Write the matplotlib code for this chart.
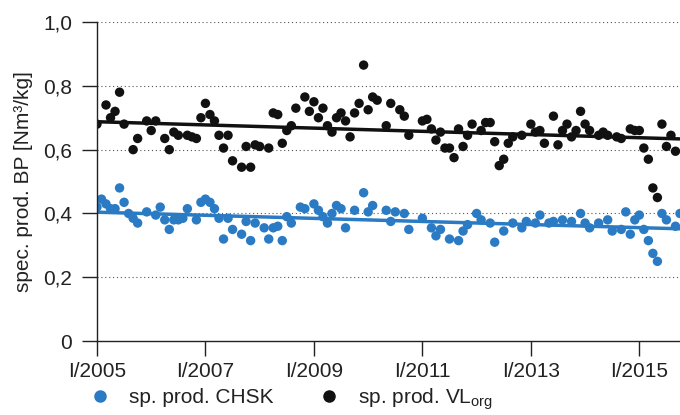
import numpy as np
import matplotlib
matplotlib.use("Agg")
import matplotlib.pyplot as plt
from matplotlib.lines import Line2D
from matplotlib.ticker import FuncFormatter

plt.rcParams['font.family'] = ['Liberation Sans', 'DejaVu Sans']
plt.rcParams['mathtext.fontset'] = 'custom'
plt.rcParams['mathtext.rm'] = 'Liberation Sans'
plt.rcParams['mathtext.it'] = 'Liberation Sans:italic'

# months counted from I/2005 (0 = January 2005)
vl_month = [0, 2, 3, 4, 5, 6, 8, 9, 11, 12, 13, 15, 16, 17, 18, 20, 21, 22, 23, 24,
            25, 26, 27, 28, 29, 30, 32, 33, 34, 35, 36, 38, 39, 40, 41, 42, 43, 44, 46, 47,
            48, 49, 50, 51, 52, 53, 54, 55, 56, 57, 58, 59, 60, 61, 62, 64, 65, 67, 68, 69,
            72, 73, 74, 75, 76, 77, 78, 79, 80, 81, 82, 83, 85, 86, 87, 88, 89, 90, 91, 92,
            94, 96, 97, 98, 99, 101, 102, 103, 104, 105, 106, 107, 108, 109, 111, 112, 113, 115, 116, 118,
            119, 120, 121, 122, 123, 124, 125, 126, 127, 128]
vl_org = [0.68, 0.74, 0.70, 0.72, 0.78, 0.68, 0.60, 0.635, 0.69, 0.66, 0.69, 0.635, 0.60, 0.655, 0.645, 0.645, 0.64, 0.635, 0.70, 0.745,
          0.71, 0.69, 0.645, 0.605, 0.645, 0.565, 0.545, 0.61, 0.545, 0.615, 0.61, 0.605, 0.715, 0.71, 0.62, 0.66, 0.675, 0.73, 0.765, 0.72,
          0.75, 0.70, 0.73, 0.675, 0.655, 0.70, 0.715, 0.69, 0.64, 0.715, 0.745, 0.865, 0.725, 0.765, 0.755, 0.675, 0.745, 0.725, 0.705, 0.645,
          0.69, 0.695, 0.665, 0.63, 0.655, 0.605, 0.605, 0.575, 0.665, 0.61, 0.645, 0.68, 0.66, 0.685, 0.685, 0.625, 0.55, 0.57, 0.62, 0.64,
          0.645, 0.68, 0.655, 0.66, 0.62, 0.705, 0.615, 0.66, 0.68, 0.64, 0.66, 0.72, 0.68, 0.66, 0.645, 0.655, 0.645, 0.64, 0.635, 0.665,
          0.66, 0.66, 0.605, 0.57, 0.48, 0.45, 0.68, 0.61, 0.645, 0.595]

chsk_month = [0, 1, 2, 3, 4, 5, 6, 7, 8, 9, 11, 13, 14, 15, 16, 17, 18, 19, 20, 22,
              23, 24, 25, 26, 27, 28, 29, 30, 32, 33, 34, 35, 37, 38, 39, 40, 41, 42, 43, 45,
              46, 48, 49, 50, 51, 52, 53, 54, 55, 57, 59, 60, 61, 64, 65, 66, 68, 69, 72, 74,
              75, 76, 78, 80, 81, 82, 84, 85, 87, 88, 90, 92, 94, 95, 97, 98, 100, 101, 103, 105,
              107, 108, 109, 111, 113, 114, 116, 117, 118, 119, 120, 121, 122, 123, 124, 125, 126, 128, 129]
chsk = [0.42, 0.445, 0.43, 0.415, 0.415, 0.48, 0.435, 0.40, 0.385, 0.37, 0.405, 0.395, 0.42, 0.38, 0.35, 0.38, 0.38, 0.385, 0.415, 0.38,
        0.435, 0.445, 0.435, 0.415, 0.385, 0.32, 0.385, 0.35, 0.335, 0.375, 0.315, 0.37, 0.355, 0.32, 0.355, 0.36, 0.315, 0.39, 0.37, 0.42,
        0.415, 0.43, 0.41, 0.39, 0.37, 0.40, 0.425, 0.415, 0.355, 0.41, 0.465, 0.405, 0.425, 0.41, 0.375, 0.405, 0.40, 0.35, 0.385, 0.355,
        0.33, 0.35, 0.32, 0.315, 0.345, 0.365, 0.40, 0.38, 0.37, 0.31, 0.345, 0.37, 0.355, 0.375, 0.37, 0.395, 0.37, 0.375, 0.38, 0.375,
        0.40, 0.37, 0.355, 0.37, 0.38, 0.345, 0.35, 0.405, 0.335, 0.38, 0.395, 0.35, 0.315, 0.275, 0.25, 0.40, 0.38, 0.36, 0.40]

year_ticks = [0, 24, 48, 72, 96, 120]
year_labels = ["I/2005", "I/2007", "I/2009", "I/2011", "I/2013", "I/2015"]
y_ticks = [0, 0.2, 0.4, 0.6, 0.8, 1.0]

blue = "#2a7bc3"
black = "#111111"

fig = plt.figure(figsize=(6.8, 4.15), dpi=100)
ax = fig.add_axes([0.1426, 0.178, 0.8574, 0.769])

ax.scatter(chsk_month, chsk, s=46, color=blue, edgecolors='none', zorder=3)
ax.scatter(vl_month, vl_org, s=46, color=black, edgecolors='none', zorder=3)

# linear trends over the whole period
xlim = (0, 129)
xs = np.array(xlim)
for m, v, c in [(chsk_month, chsk, blue), (vl_month, vl_org, black)]:
    k, d = np.polyfit(m, v, 1)
    ax.plot(xs, k * xs + d, color=c, lw=2.5, zorder=4, solid_capstyle='butt')

ax.set_xlim(*xlim)
ax.set_ylim(0, 1.0)
ax.set_xticks(year_ticks)
ax.set_xticklabels(year_labels)
ax.set_yticks(y_ticks)
ax.yaxis.set_major_formatter(FuncFormatter(lambda v, p: "0" if v == 0 else f"{v:.1f}".replace(".", ",")))

for v in y_ticks[1:]:
    ax.axhline(v, color="#555555", lw=0.8, ls=(0, (1, 2.5)), zorder=1)

for s in ["top", "right"]:
    ax.spines[s].set_visible(False)
for s in ["left", "bottom"]:
    ax.spines[s].set_linewidth(1.0)
    ax.spines[s].set_color("#222222")
    ax.spines[s].set_zorder(5)

ax.tick_params(axis='both', direction='out', length=11, width=1.0, color="#222222",
               labelsize=15, labelcolor="#222222")
ax.tick_params(axis='y', pad=7)
ax.tick_params(axis='x', pad=4)

ax.set_ylabel("spec. prod. BP [Nm³/kg]", fontsize=15, color="#222222", labelpad=7)

handles = [Line2D([], [], marker='o', ls='none', color=blue, markersize=8),
           Line2D([], [], marker='o', ls='none', color=black, markersize=8)]
fig.legend(handles, ["sp. prod. CHSK", r"sp. prod. VL$_{\mathrm{org}}$"],
           loc='center left', bbox_to_anchor=(0.1316, 0.0386), ncol=2, frameon=False,
           borderaxespad=0, borderpad=0, handlelength=1.0, handletextpad=0.9,
           columnspacing=2.15, fontsize=15, labelcolor="#222222")

fig.savefig("out.png", dpi=100)
